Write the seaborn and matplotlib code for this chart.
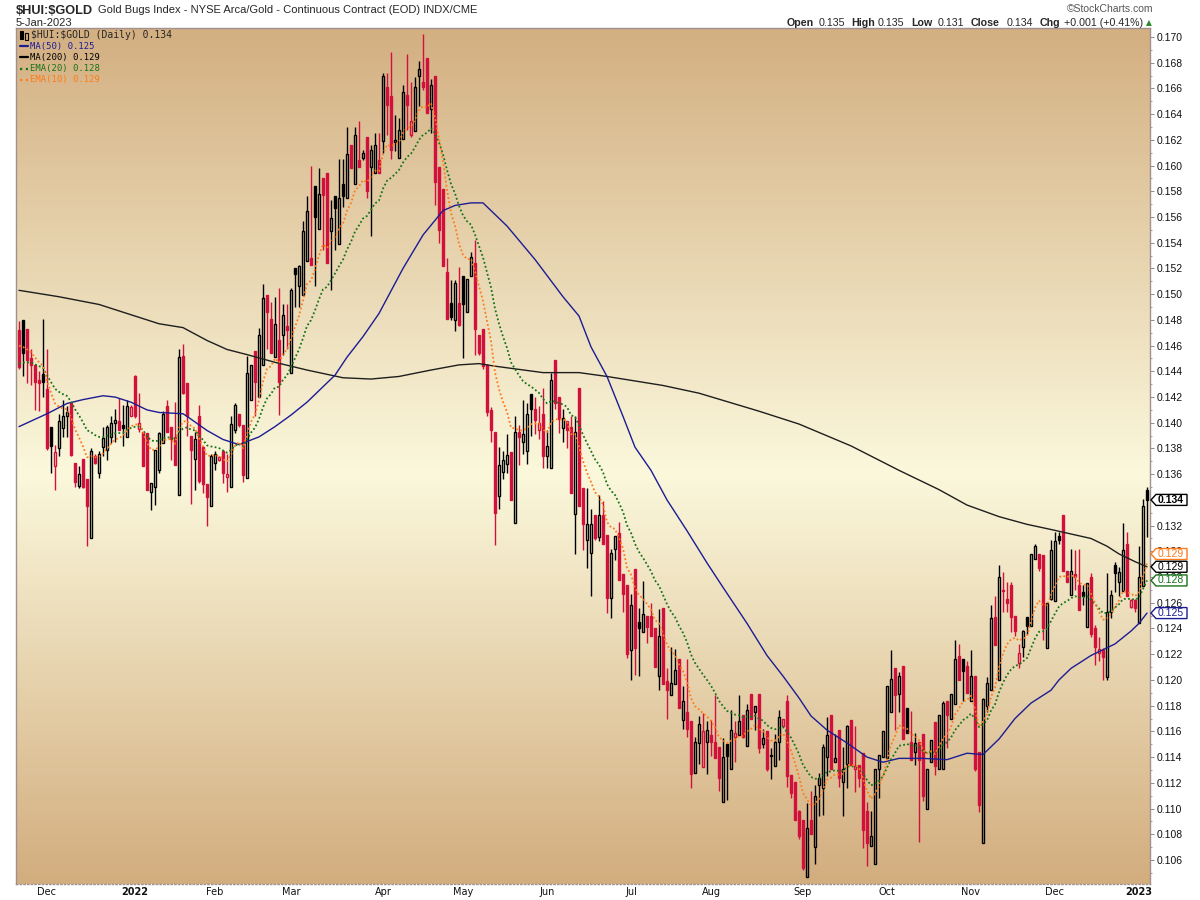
import numpy as np
import pandas as pd
import matplotlib
matplotlib.use("Agg")
import matplotlib.pyplot as plt
import matplotlib.transforms as mtrans
from matplotlib.patches import Polygon, Rectangle
from matplotlib.ticker import MultipleLocator
from matplotlib.colors import LinearSegmentedColormap
import seaborn as sns

# daily candles, Nov 19 2021 .. Jan 5 2023
open_ = [
    0.1472, 0.1480, 0.1473, 0.1450, 0.1445, 0.1433, 0.1438, 0.1426, 0.1397, 0.1366,
    0.1380, 0.1396, 0.1405, 0.1415, 0.1369, 0.1351, 0.1372, 0.1356, 0.1310, 0.1374,
    0.1361, 0.1381, 0.1379, 0.1389, 0.1400, 0.1401, 0.1398, 0.1389, 0.1405, 0.1436,
    0.1395, 0.1393, 0.1392, 0.1346, 0.1350, 0.1363, 0.1384, 0.1413, 0.1397, 0.1389,
    0.1344, 0.1452, 0.1431, 0.1390, 0.1372, 0.1405, 0.1381, 0.1352, 0.1335, 0.1369,
    0.1371, 0.1378, 0.1358, 0.1350, 0.1394, 0.1407, 0.1398, 0.1357, 0.1418, 0.1456,
    0.1420, 0.1445, 0.1499, 0.1481, 0.1451, 0.1464, 0.1468, 0.1475, 0.1439, 0.1520,
    0.1506, 0.1499, 0.1526, 0.1528, 0.1584, 0.1551, 0.1590, 0.1594, 0.1549, 0.1576,
    0.1539, 0.1586, 0.1575, 0.1616, 0.1586, 0.1604, 0.1606, 0.1622, 0.1599, 0.1594,
    0.1604, 0.1619, 0.1661, 0.1654, 0.1618, 0.1606, 0.1621, 0.1655, 0.1624, 0.1627,
    0.1670, 0.1665, 0.1684, 0.1644, 0.1670, 0.1599, 0.1582, 0.1517, 0.1493, 0.1480,
    0.1493, 0.1514, 0.1486, 0.1514, 0.1524, 0.1468, 0.1473, 0.1445, 0.1410, 0.1393,
    0.1343, 0.1362, 0.1368, 0.1377, 0.1322, 0.1393, 0.1385, 0.1378, 0.1422, 0.1411,
    0.1394, 0.1407, 0.1374, 0.1365, 0.1449, 0.1420, 0.1396, 0.1401, 0.1397, 0.1329,
    0.1427, 0.1349, 0.1309, 0.1299, 0.1328, 0.1311, 0.1328, 0.1313, 0.1264, 0.1302,
    0.1314, 0.1282, 0.1274, 0.1223, 0.1286, 0.1245, 0.1237, 0.1250, 0.1250, 0.1240,
    0.1203, 0.1256, 0.1199, 0.1188, 0.1197, 0.1216, 0.1169, 0.1175, 0.1168, 0.1128,
    0.1151, 0.1132, 0.1152, 0.1157, 0.1152, 0.1148, 0.1105, 0.1150, 0.1131, 0.1156,
    0.1157, 0.1173, 0.1149, 0.1189, 0.1175, 0.1189, 0.1150, 0.1160, 0.1141, 0.1133,
    0.1152, 0.1164, 0.1184, 0.1126, 0.1121, 0.1098, 0.1091, 0.1047, 0.1091, 0.1070,
    0.1118, 0.1116, 0.1140, 0.1173, 0.1136, 0.1161, 0.1121, 0.1135, 0.1169, 0.1131,
    0.1134, 0.1143, 0.1098, 0.1071, 0.1057, 0.1131, 0.1140, 0.1139, 0.1175, 0.1209,
    0.1189, 0.1211, 0.1178, 0.1152, 0.1144, 0.1152, 0.1158, 0.1100, 0.1136, 0.1167,
    0.1131, 0.1131, 0.1184, 0.1170, 0.1181, 0.1219, 0.1216, 0.1211, 0.1184, 0.1203,
    0.1144, 0.1073, 0.1180, 0.1192, 0.1249, 0.1200, 0.1270, 0.1263, 0.1274, 0.1250,
    0.1213, 0.1226, 0.1249, 0.1242, 0.1294, 0.1298, 0.1297, 0.1225, 0.1263, 0.1261,
    0.1312, 0.1328, 0.1285, 0.1266, 0.1282, 0.1274, 0.1268, 0.1241, 0.1280, 0.1240,
    0.1221, 0.1223, 0.1202, 0.1253, 0.1289, 0.1276, 0.1269, 0.1306, 0.1257, 0.1262,
    0.1244, 0.1273, 0.1348]
high = [
    0.1479, 0.1480, 0.1473, 0.1457, 0.1445, 0.1440, 0.1481, 0.1457, 0.1397, 0.1383,
    0.1407, 0.1418, 0.1413, 0.1415, 0.1369, 0.1366, 0.1372, 0.1356, 0.1380, 0.1376,
    0.1378, 0.1397, 0.1398, 0.1405, 0.1411, 0.1419, 0.1414, 0.1418, 0.1414, 0.1437,
    0.1423, 0.1393, 0.1392, 0.1353, 0.1379, 0.1393, 0.1409, 0.1418, 0.1397, 0.1416,
    0.1457, 0.1461, 0.1431, 0.1390, 0.1393, 0.1414, 0.1381, 0.1352, 0.1376, 0.1378,
    0.1374, 0.1379, 0.1376, 0.1405, 0.1415, 0.1407, 0.1398, 0.1452, 0.1445, 0.1456,
    0.1474, 0.1508, 0.1499, 0.1494, 0.1498, 0.1505, 0.1492, 0.1492, 0.1505, 0.1520,
    0.1523, 0.1557, 0.1576, 0.1600, 0.1584, 0.1598, 0.1590, 0.1594, 0.1573, 0.1576,
    0.1605, 0.1605, 0.1630, 0.1616, 0.1630, 0.1635, 0.1612, 0.1622, 0.1616, 0.1625,
    0.1625, 0.1672, 0.1672, 0.1688, 0.1639, 0.1637, 0.1663, 0.1687, 0.1665, 0.1669,
    0.1681, 0.1702, 0.1684, 0.1667, 0.1670, 0.1599, 0.1582, 0.1528, 0.1511, 0.1511,
    0.1521, 0.1514, 0.1512, 0.1533, 0.1542, 0.1468, 0.1473, 0.1446, 0.1412, 0.1393,
    0.1381, 0.1378, 0.1391, 0.1377, 0.1405, 0.1398, 0.1418, 0.1415, 0.1422, 0.1420,
    0.1413, 0.1427, 0.1394, 0.1439, 0.1449, 0.1420, 0.1411, 0.1401, 0.1405, 0.1405,
    0.1427, 0.1349, 0.1349, 0.1333, 0.1328, 0.1344, 0.1339, 0.1313, 0.1302, 0.1312,
    0.1323, 0.1282, 0.1274, 0.1267, 0.1286, 0.1256, 0.1277, 0.1250, 0.1260, 0.1240,
    0.1255, 0.1256, 0.1209, 0.1226, 0.1224, 0.1216, 0.1195, 0.1216, 0.1168, 0.1156,
    0.1172, 0.1174, 0.1168, 0.1169, 0.1188, 0.1148, 0.1155, 0.1150, 0.1177, 0.1168,
    0.1188, 0.1173, 0.1181, 0.1189, 0.1180, 0.1189, 0.1162, 0.1160, 0.1147, 0.1158,
    0.1177, 0.1170, 0.1188, 0.1126, 0.1121, 0.1099, 0.1091, 0.1104, 0.1114, 0.1118,
    0.1128, 0.1150, 0.1171, 0.1173, 0.1158, 0.1161, 0.1148, 0.1165, 0.1169, 0.1164,
    0.1134, 0.1143, 0.1105, 0.1098, 0.1131, 0.1142, 0.1160, 0.1195, 0.1223, 0.1209,
    0.1206, 0.1211, 0.1178, 0.1176, 0.1159, 0.1152, 0.1158, 0.1131, 0.1153, 0.1167,
    0.1173, 0.1184, 0.1184, 0.1189, 0.1231, 0.1228, 0.1216, 0.1215, 0.1223, 0.1203,
    0.1144, 0.1186, 0.1202, 0.1258, 0.1265, 0.1289, 0.1284, 0.1276, 0.1276, 0.1250,
    0.1228, 0.1239, 0.1249, 0.1298, 0.1306, 0.1298, 0.1297, 0.1260, 0.1309, 0.1315,
    0.1315, 0.1328, 0.1285, 0.1302, 0.1301, 0.1302, 0.1274, 0.1275, 0.1283, 0.1243,
    0.1233, 0.1225, 0.1283, 0.1270, 0.1292, 0.1288, 0.1322, 0.1315, 0.1263, 0.1263,
    0.1304, 0.1341, 0.1350]
low = [
    0.1442, 0.1436, 0.1431, 0.1429, 0.1410, 0.1409, 0.1420, 0.1379, 0.1361, 0.1348,
    0.1374, 0.1389, 0.1389, 0.1374, 0.1350, 0.1349, 0.1349, 0.1304, 0.1310, 0.1368,
    0.1357, 0.1374, 0.1371, 0.1384, 0.1385, 0.1394, 0.1382, 0.1389, 0.1405, 0.1404,
    0.1393, 0.1366, 0.1348, 0.1332, 0.1336, 0.1361, 0.1384, 0.1393, 0.1371, 0.1367,
    0.1344, 0.1422, 0.1390, 0.1337, 0.1348, 0.1353, 0.1345, 0.1320, 0.1335, 0.1363,
    0.1370, 0.1353, 0.1346, 0.1350, 0.1392, 0.1397, 0.1354, 0.1357, 0.1418, 0.1405,
    0.1420, 0.1445, 0.1457, 0.1454, 0.1451, 0.1406, 0.1453, 0.1457, 0.1439, 0.1490,
    0.1490, 0.1499, 0.1526, 0.1523, 0.1506, 0.1551, 0.1534, 0.1524, 0.1503, 0.1534,
    0.1539, 0.1568, 0.1575, 0.1598, 0.1586, 0.1599, 0.1604, 0.1575, 0.1545, 0.1594,
    0.1594, 0.1610, 0.1624, 0.1605, 0.1611, 0.1606, 0.1621, 0.1628, 0.1622, 0.1627,
    0.1646, 0.1659, 0.1641, 0.1625, 0.1569, 0.1540, 0.1522, 0.1481, 0.1480, 0.1471,
    0.1475, 0.1450, 0.1486, 0.1514, 0.1453, 0.1453, 0.1442, 0.1405, 0.1385, 0.1305,
    0.1333, 0.1356, 0.1361, 0.1340, 0.1322, 0.1367, 0.1376, 0.1368, 0.1390, 0.1391,
    0.1387, 0.1365, 0.1365, 0.1365, 0.1411, 0.1392, 0.1385, 0.1380, 0.1345, 0.1298,
    0.1335, 0.1301, 0.1287, 0.1265, 0.1309, 0.1308, 0.1306, 0.1252, 0.1248, 0.1293,
    0.1278, 0.1253, 0.1217, 0.1200, 0.1204, 0.1203, 0.1237, 0.1229, 0.1234, 0.1210,
    0.1192, 0.1197, 0.1170, 0.1188, 0.1197, 0.1178, 0.1162, 0.1156, 0.1116, 0.1128,
    0.1135, 0.1132, 0.1127, 0.1141, 0.1139, 0.1114, 0.1105, 0.1107, 0.1131, 0.1136,
    0.1157, 0.1155, 0.1149, 0.1170, 0.1161, 0.1143, 0.1147, 0.1129, 0.1123, 0.1133,
    0.1138, 0.1164, 0.1117, 0.1108, 0.1091, 0.1076, 0.1052, 0.1047, 0.1080, 0.1057,
    0.1094, 0.1095, 0.1125, 0.1131, 0.1136, 0.1117, 0.1094, 0.1116, 0.1134, 0.1113,
    0.1117, 0.1069, 0.1055, 0.1071, 0.1057, 0.1108, 0.1140, 0.1139, 0.1175, 0.1161,
    0.1175, 0.1154, 0.1159, 0.1138, 0.1134, 0.1074, 0.1106, 0.1100, 0.1136, 0.1126,
    0.1131, 0.1131, 0.1147, 0.1170, 0.1181, 0.1200, 0.1184, 0.1190, 0.1184, 0.1129,
    0.1097, 0.1073, 0.1175, 0.1192, 0.1227, 0.1200, 0.1253, 0.1253, 0.1237, 0.1234,
    0.1209, 0.1218, 0.1236, 0.1242, 0.1294, 0.1285, 0.1231, 0.1225, 0.1262, 0.1261,
    0.1306, 0.1285, 0.1276, 0.1266, 0.1270, 0.1254, 0.1258, 0.1241, 0.1233, 0.1212,
    0.1215, 0.1200, 0.1200, 0.1248, 0.1268, 0.1265, 0.1269, 0.1265, 0.1256, 0.1253,
    0.1244, 0.1273, 0.1311]
close = [
    0.1443, 0.1454, 0.1449, 0.1445, 0.1432, 0.1431, 0.1432, 0.1380, 0.1382, 0.1377,
    0.1401, 0.1405, 0.1408, 0.1375, 0.1354, 0.1360, 0.1350, 0.1335, 0.1378, 0.1369,
    0.1376, 0.1388, 0.1397, 0.1400, 0.1402, 0.1394, 0.1396, 0.1413, 0.1412, 0.1405,
    0.1400, 0.1366, 0.1348, 0.1353, 0.1379, 0.1392, 0.1407, 0.1393, 0.1387, 0.1367,
    0.1451, 0.1423, 0.1405, 0.1379, 0.1387, 0.1355, 0.1352, 0.1342, 0.1374, 0.1376,
    0.1373, 0.1361, 0.1360, 0.1399, 0.1414, 0.1398, 0.1359, 0.1439, 0.1445, 0.1432,
    0.1468, 0.1497, 0.1486, 0.1454, 0.1477, 0.1432, 0.1484, 0.1472, 0.1503, 0.1516,
    0.1522, 0.1549, 0.1565, 0.1523, 0.1560, 0.1578, 0.1577, 0.1524, 0.1559, 0.1567,
    0.1575, 0.1576, 0.1609, 0.1598, 0.1624, 0.1599, 0.1610, 0.1580, 0.1612, 0.1616,
    0.1594, 0.1670, 0.1647, 0.1612, 0.1620, 0.1628, 0.1657, 0.1647, 0.1635, 0.1661,
    0.1675, 0.1661, 0.1641, 0.1663, 0.1587, 0.1550, 0.1522, 0.1481, 0.1482, 0.1509,
    0.1476, 0.1492, 0.1512, 0.1529, 0.1473, 0.1454, 0.1444, 0.1408, 0.1394, 0.1330,
    0.1367, 0.1371, 0.1375, 0.1340, 0.1393, 0.1389, 0.1391, 0.1407, 0.1411, 0.1402,
    0.1400, 0.1374, 0.1382, 0.1433, 0.1415, 0.1403, 0.1404, 0.1394, 0.1345, 0.1393,
    0.1335, 0.1321, 0.1321, 0.1321, 0.1310, 0.1328, 0.1306, 0.1264, 0.1299, 0.1312,
    0.1278, 0.1267, 0.1220, 0.1258, 0.1225, 0.1240, 0.1251, 0.1241, 0.1234, 0.1210,
    0.1234, 0.1197, 0.1192, 0.1198, 0.1208, 0.1178, 0.1184, 0.1162, 0.1127, 0.1152,
    0.1166, 0.1160, 0.1161, 0.1152, 0.1139, 0.1124, 0.1140, 0.1141, 0.1161, 0.1159,
    0.1168, 0.1156, 0.1177, 0.1170, 0.1180, 0.1147, 0.1155, 0.1131, 0.1142, 0.1152,
    0.1171, 0.1170, 0.1125, 0.1112, 0.1091, 0.1079, 0.1054, 0.1085, 0.1080, 0.1110,
    0.1124, 0.1148, 0.1157, 0.1131, 0.1139, 0.1124, 0.1131, 0.1164, 0.1134, 0.1133,
    0.1124, 0.1083, 0.1073, 0.1079, 0.1131, 0.1142, 0.1160, 0.1195, 0.1201, 0.1188,
    0.1203, 0.1154, 0.1159, 0.1138, 0.1151, 0.1138, 0.1110, 0.1131, 0.1153, 0.1133,
    0.1173, 0.1182, 0.1173, 0.1189, 0.1216, 0.1200, 0.1207, 0.1190, 0.1203, 0.1131,
    0.1103, 0.1185, 0.1198, 0.1248, 0.1227, 0.1280, 0.1269, 0.1260, 0.1249, 0.1238,
    0.1221, 0.1238, 0.1242, 0.1298, 0.1304, 0.1287, 0.1240, 0.1260, 0.1301, 0.1308,
    0.1309, 0.1285, 0.1276, 0.1285, 0.1280, 0.1254, 0.1265, 0.1275, 0.1236, 0.1226,
    0.1224, 0.1218, 0.1253, 0.1266, 0.1283, 0.1284, 0.1301, 0.1265, 0.1262, 0.1256,
    0.1280, 0.1335, 0.1340]

# moving averages need history before the window, so read them off the chart
ma50_idx = [0, 7, 12, 16, 21, 24, 28, 32, 35, 41, 42, 47, 51, 55, 60, 64, 68, 72, 76, 79,
            82, 86, 90, 96, 101, 106, 109, 113, 116, 118, 122, 129, 136, 140, 143, 147,
            151, 154, 158, 162, 167, 172, 176, 182, 187, 191, 195, 198, 202, 207, 212,
            216, 220, 226, 232, 237, 241, 245, 249, 253, 258, 260, 263, 268, 270, 274,
            278, 280, 282]
ma50_val = [0.1397, 0.1407, 0.1415, 0.1418, 0.1421, 0.1420, 0.1416, 0.1410, 0.1408, 0.1407,
            0.1405, 0.1394, 0.1387, 0.1383, 0.1389, 0.1397, 0.1406, 0.1416, 0.1428, 0.1437,
            0.1451, 0.1467, 0.1485, 0.1520, 0.1546, 0.1565, 0.1569, 0.1571, 0.1571, 0.1565,
            0.1553, 0.1527, 0.1498, 0.1483, 0.1459, 0.1436, 0.1405, 0.1381, 0.1363, 0.1340,
            0.1316, 0.1291, 0.1272, 0.1244, 0.1219, 0.1203, 0.1186, 0.1172, 0.1161, 0.1151,
            0.1140, 0.1136, 0.1139, 0.1139, 0.1138, 0.1143, 0.1142, 0.1154, 0.1170, 0.1182,
            0.1192, 0.1200, 0.1209, 0.1219, 0.1222, 0.1228, 0.1238, 0.1244, 0.1252]
ma200_idx = [0, 10, 20, 24, 35, 41, 47, 52, 57, 64, 72, 81, 88, 95, 103, 110, 115, 119,
             131, 140, 147, 161, 170, 185, 195, 208, 220, 230, 237, 245, 252, 258, 268,
             272, 275, 279, 282]
ma200_val = [0.1503, 0.1498, 0.1492, 0.1488, 0.1477, 0.1474, 0.1464, 0.1457, 0.1453, 0.1447,
             0.1441, 0.1435, 0.1434, 0.1436, 0.1441, 0.1445, 0.1446, 0.1444, 0.1439, 0.1439,
             0.1436, 0.1429, 0.1423, 0.1409, 0.1399, 0.1382, 0.1363, 0.1348, 0.1336, 0.1327,
             0.1321, 0.1317, 0.1310, 0.1304, 0.1298, 0.1292, 0.1288]
ema10_start = 0.1460
ema20_start = 0.1446

holidays = ["2021-11-25", "2021-12-24", "2022-01-17", "2022-02-21", "2022-04-15",
            "2022-05-30", "2022-06-20", "2022-07-04", "2022-09-05", "2022-11-24",
            "2022-12-26", "2023-01-02"]

days = pd.bdate_range("2021-11-19", "2023-01-05")
days = days[~days.isin(pd.to_datetime(holidays))]

df = pd.DataFrame({"date": days, "open": open_, "high": high, "low": low, "close": close})
df["i"] = np.arange(len(df))
df["prev"] = df["close"].shift(1).fillna(df["open"])


def ema(vals, span, start):
    a = 2.0 / (span + 1)
    out = [start]
    for v in vals[1:]:
        out.append(a * v + (1 - a) * out[-1])
    return out


df["ema10"] = ema(close, 10, ema10_start)
df["ema20"] = ema(close, 20, ema20_start)

RED = "#D2103C"
NAVY = "#1c1c94"
GREEN = "#17731a"
ORANGE = "#ff7a1a"

sns.set_style("white")
plt.rcParams["font.family"] = ["Liberation Sans", "DejaVu Sans"]

fig = plt.figure(figsize=(12, 9), dpi=100)
ax = fig.add_axes([16 / 1200, 16 / 900, 1134 / 1200, 856 / 900])

# tan -> cream -> tan background
bg = LinearSegmentedColormap.from_list(
    "bg", [(0, "#D2AD7E"), (0.48, "#FBF8DC"), (1, "#D3AF81")])
ax.imshow(np.linspace(0, 1, 256).reshape(-1, 1), cmap=bg, aspect="auto",
          extent=(-0.75, 282.75, 0.10413, 0.1707), origin="lower", zorder=0)

# candles: hollow when close >= open, red when close < previous close
body_top = df[["open", "close"]].max(axis=1)
body_bot = df[["open", "close"]].min(axis=1)
edge = np.where(df["close"] < df["prev"], RED, "black")
face = np.where(df["close"] >= df["open"], "none", edge)
ax.vlines(df["i"], body_top, df["high"], colors=edge, lw=1.0, zorder=3)
ax.vlines(df["i"], df["low"], body_bot, colors=edge, lw=1.0, zorder=3)
ax.bar(df["i"], (body_top - body_bot).clip(lower=0.00006), bottom=body_bot, width=0.7,
       color=face, edgecolor=edge, linewidth=1.0, zorder=4)

sns.lineplot(x=ma200_idx, y=ma200_val, ax=ax, color="#1e1e1e", lw=1.0, zorder=5)
sns.lineplot(x=ma50_idx, y=ma50_val, ax=ax, color=NAVY, lw=1.0, zorder=5)
sns.lineplot(data=df, x="i", y="ema20", ax=ax, color=GREEN, lw=1.3,
             linestyle=(0, (1, 1.3)), zorder=6)
sns.lineplot(data=df, x="i", y="ema10", ax=ax, color=ORANGE, lw=1.3,
             linestyle=(0, (1, 1.3)), zorder=6)

ax.set_xlim(-0.75, 282.75)
ax.set_ylim(0.10413, 0.1707)
ax.set_xlabel("")
ax.set_ylabel("")

# y axis on the right
ax.yaxis.tick_right()
yt = np.round(np.arange(0.106, 0.1705, 0.002), 3)
ax.set_yticks(yt)
ax.set_yticklabels([f"{v:.3f}" for v in yt])
ax.yaxis.set_minor_locator(MultipleLocator(0.001))
ax.tick_params(axis="y", which="major", length=3, width=0.7, color="#9a8888",
               labelsize=7.5, labelcolor="#111111", pad=1.5)
ax.tick_params(axis="y", which="minor", length=1.5, width=0.6, color="#9a8888")

# month ticks on first trading day of each month
starts = df[df["date"].dt.month != df["date"].shift(1).dt.month]
starts = starts[starts["date"].dt.day <= 7]
labels = [str(d.year) if d.month == 1 else d.strftime("%b") for d in starts["date"]]
ax.set_xticks(starts["i"])
ax.set_xticklabels(labels)
ax.tick_params(axis="x", length=0, labelsize=7, labelcolor="#111111", pad=2)
for t in ax.get_xticklabels():
    t.set_family("DejaVu Sans")
    if t.get_text().isdigit():
        t.set_fontweight("bold")

for s in ax.spines.values():
    s.set_color("#a09090")
    s.set_linewidth(1.0)
ax.spines["bottom"].set_linestyle(":")


# header
def px(x, y):
    return x / 1200, 1 - y / 900


fig.text(*px(16, 14), r"\$HUI:\$GOLD", fontsize=9.2, fontweight="bold", va="baseline")
fig.text(*px(98, 13), "Gold Bugs Index - NYSE Arca/Gold - Continuous Contract (EOD) INDX/CME",
         fontsize=8, va="baseline")
fig.text(*px(16, 26), "5-Jan-2023", fontsize=8, va="baseline")
fig.text(*px(1153, 12), "\u00a9StockCharts.com", fontsize=7.5, color="#555555",
         ha="right", va="baseline")
pieces = [("Open", True, 787), ("0.135", False, 819), ("High", True, 851),
          ("0.135", False, 878), ("Low", True, 911), ("0.131", False, 938),
          ("Close", True, 971), ("0.134", False, 1007), ("Chg", True, 1040),
          ("+0.001 (+0.41%)", False, 1064)]
for txt, bold, x in pieces:
    fig.text(*px(x, 26), txt, fontsize=7.7, fontweight="bold" if bold else "normal",
             va="baseline")
fig.text(*px(1146, 25), "\u25b2", fontsize=5.5, color="#2a8a2a", va="baseline",
         family=["DejaVu Sans"])

# legend block inside the plot, with a small candle icon
for cx, top, bot in [(21, 31, 39), (26, 33, 40)]:
    fig.add_artist(Rectangle((cx - 1.5, 900 - bot), 3, bot - top,
                             transform=mtrans.IdentityTransform(),
                             fc="black" if cx == 21 else "none", ec="black", lw=0.8))
fig.text(*px(31, 35), r"\$HUI:\$GOLD (Daily) 0.134", fontsize=7, va="center",
         family=["DejaVu Sans Mono"])
leg = [("MA(50) 0.125", NAVY, "-"), ("MA(200) 0.129", "black", "-"),
       ("EMA(20) 0.128", GREEN, ":"), ("EMA(10) 0.129", ORANGE, ":")]
for k, (txt, col, ls) in enumerate(leg):
    y = 46 + k * 11.3
    fig.add_artist(plt.Line2D([20 / 1200, 28 / 1200], [1 - y / 900] * 2, color=col,
                              lw=1.6, linestyle=ls))
    fig.text(*px(30, y), txt, fontsize=6.4, color=col, va="center",
             family=["DejaVu Sans Mono"])

# value tags on the right axis
fig.canvas.draw()
x0 = ax.transAxes.transform((1, 0))[0] + 1


def tag(val, txt, col, bold=False):
    y = ax.transData.transform((0, val))[1]
    h, w = 11, 36
    pts = [(x0, y), (x0 + 5, y + h / 2), (x0 + w, y + h / 2),
           (x0 + w, y - h / 2), (x0 + 5, y - h / 2)]
    fig.add_artist(Polygon(pts, closed=True, transform=mtrans.IdentityTransform(),
                           fc="white", ec=col, lw=1.0))
    fig.text(x0 + 7, y, txt, transform=mtrans.IdentityTransform(), fontsize=7.5,
             color=col, va="center", fontweight="bold" if bold else "normal")


tag(df["ema10"].iloc[-1] + 0.0007, "0.129", ORANGE)
tag(ma200_val[-1], "0.129", "black")
tag(df["ema20"].iloc[-1], "0.128", GREEN)
tag(ma50_val[-1], "0.125", NAVY)
tag(close[-1], "0.134", "black", bold=True)

fig.savefig("out.png", dpi=100, facecolor="white")
